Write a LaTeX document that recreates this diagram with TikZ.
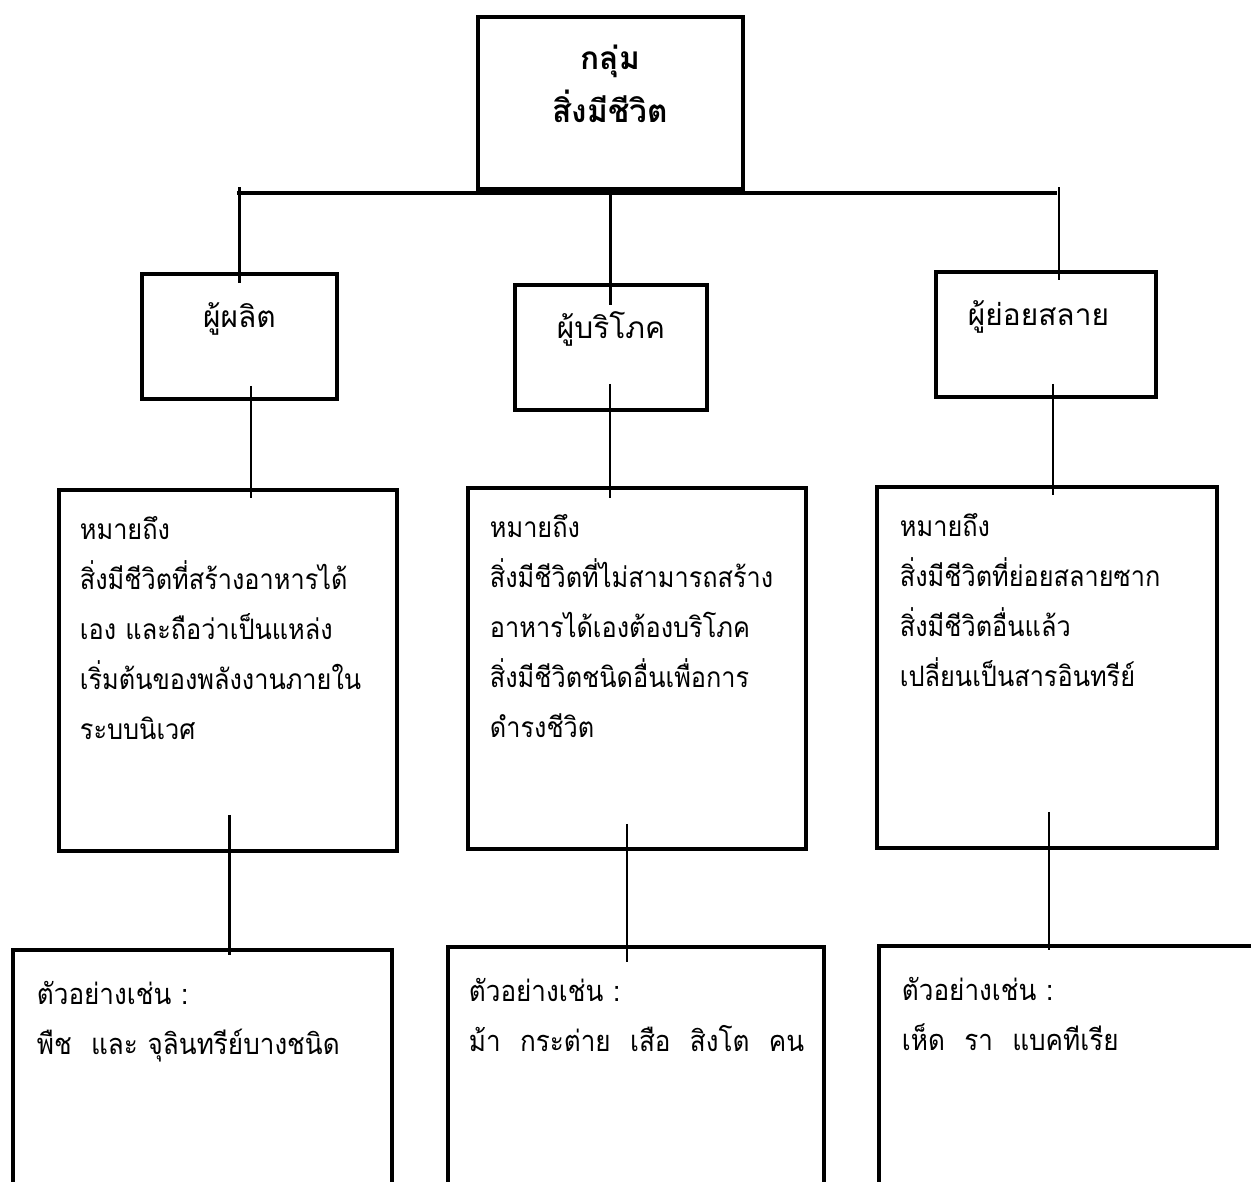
\documentclass[tikz,border=0pt]{standalone}
\usepackage{fontspec}
\newfontfamily\thaifont[Script=Thai]{Loma}
\newfontfamily\thainarrow[Script=Thai,FakeStretch=0.9]{Loma}
\usepackage{tikz}

\begin{document}
\begin{tikzpicture}[x=0.02cm,y=-0.02cm,
  box/.style={draw,line width=2.2pt,inner sep=0pt,anchor=north west},
  groupbox/.style={box,align=center,text width=5.3cm,text height=1.06cm,text depth=2.38cm,
    font=\thaifont\bfseries\fontsize{18}{30}\selectfont},
  rolebox/.style={box,align=center,text height=1.08cm,text depth=1.42cm,
    font=\thaifont\fontsize{17}{28}\selectfont},
  defbox/.style={box,align=left,inner xsep=0.44cm,text height=1cm,text depth=6.22cm,
    font=\thainarrow\fontsize{16}{28.4}\selectfont},
  exbox/.style={box,align=left,inner xsep=0.46cm,text height=1.1cm,text depth=5cm,
    font=\thainarrow\fontsize{16.5}{28.4}\selectfont},
  link/.style={line width=1.6pt}]

\useasboundingbox (0,0) rectangle (1251,1182);

% top
\node[groupbox] (root) at (476,15) {กลุ่ม\\สิ่งมีชีวิต};

% second row
\node[rolebox,text width=3.9cm] (producer) at (140,272) {ผู้ผลิต};
\node[rolebox,text width=3.84cm] (consumer) at (513,283) {ผู้บริโภค};
\node[rolebox,text width=4.4cm] (decomposer) at (934,270) {\hspace*{-0.3cm}ผู้ย่อยสลาย};

% meaning
\node[defbox,inner xsep=0.42cm,text width=5.92cm] (def1) at (57,488)
  {หมายถึง\\สิ่งมีชีวิตที่สร้างอาหารได้\\เอง และถือว่าเป็นแหล่ง\\เริ่มต้นของพลังงานภายใน\\ระบบนิเวศ};
\node[defbox,text width=5.88cm] (def2) at (466,486)
  {หมายถึง\\สิ่งมีชีวิตที่ไม่สามารถสร้าง\\อาหารได้เองต้องบริโภค\\สิ่งมีชีวิตชนิดอื่นเพื่อการ\\ดำรงชีวิต};
\node[defbox,inner xsep=0.46cm,text width=5.88cm] (def3) at (875,485)
  {หมายถึง\\สิ่งมีชีวิตที่ย่อยสลายซาก\\สิ่งมีชีวิตอื่นแล้ว\\เปลี่ยนเป็นสารอินทรีย์};

% examples
\node[exbox,inner xsep=0.48cm,text width=6.62cm] (ex1) at (11,948)
  {ตัวอย่างเช่น :\\พืช~~และ จุลินทรีย์บางชนิด};
\node[exbox,inner xsep=0.42cm,text width=6.68cm] (ex2) at (446,945)
  {ตัวอย่างเช่น :\\ม้า~~กระต่าย~~เสือ~~สิงโต~~คน};
\node[exbox,text width=6.68cm] (ex3) at (877,944)
  {ตัวอย่างเช่น :\\เห็ด~~รา~~แบคทีเรีย};

% branches
\coordinate (barW) at (237,193);
\coordinate (barE) at (1057,193);
\draw[link,line width=2pt] (barW) -- (barE);
\draw[link,shorten >=-0.44cm] (root.south) -- (root.south |- consumer.north);
\draw[link,shorten <=-0.22cm,shorten >=-0.12cm] (producer.north) -- (producer.north |- barW);
\draw[link,shorten <=-0.2cm,shorten >=-0.12cm] ([xshift=0.26cm]decomposer.north) -- ([xshift=0.26cm]decomposer.north |- barE);

\draw[link,shorten <=-0.3cm,shorten >=-0.2cm] ([xshift=0.23cm]producer.south) -- ([xshift=0.23cm]producer.south |- def1.north);
\draw[link,shorten <=-0.56cm,shorten >=-0.24cm] ([xshift=-0.02cm]consumer.south) -- ([xshift=-0.02cm]consumer.south |- def2.north);
\draw[link,shorten <=-0.3cm,shorten >=-0.2cm] ([xshift=0.14cm]decomposer.south) -- ([xshift=0.14cm]decomposer.south |- def3.north);

\draw[link,shorten <=-0.76cm,shorten >=-0.14cm] ([xshift=0.04cm]def1.south) -- ([xshift=0.04cm]def1.south |- ex1.north);
\draw[link,shorten <=-0.54cm,shorten >=-0.34cm] ([xshift=-0.2cm]def2.south) -- ([xshift=-0.2cm]def2.south |- ex2.north);
\draw[link,shorten <=-0.76cm,shorten >=-0.12cm] ([xshift=0.04cm]def3.south) -- ([xshift=0.04cm]def3.south |- ex3.north);

\end{tikzpicture}
\end{document}
